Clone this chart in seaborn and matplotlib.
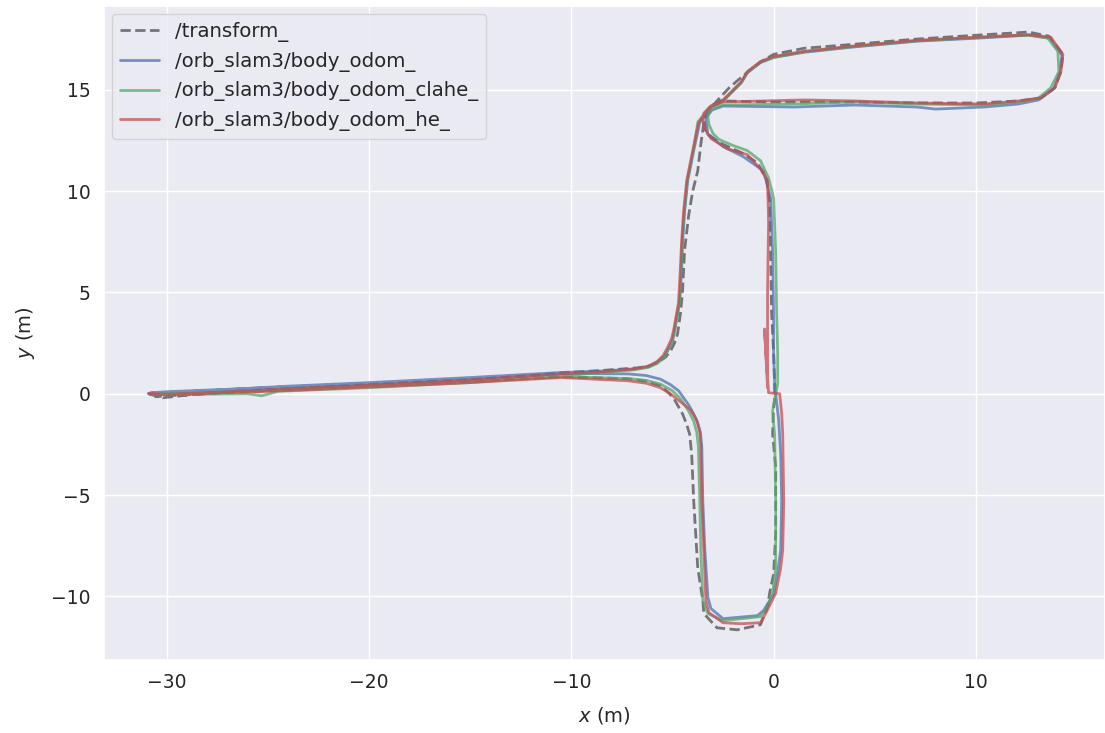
import matplotlib
matplotlib.use("Agg")
import matplotlib.pyplot as plt
import seaborn as sns
import pandas as pd

# ---------------- data (metres) ----------------
transform_xy = [
    (-30.9, 0.0), (-30.2, -0.2), (-29.0, -0.07), (-27.0, 0.1), (-24.0, 0.25), (-20.0, 0.45),
    (-15.0, 0.7), (-12.0, 0.9), (-10.5, 1.03), (-8.5, 1.15), (-6.7, 1.28), (-6.1, 1.38),
    (-5.75, 1.53), (-5.35, 1.8), (-5.1, 2.1), (-4.9, 2.5), (-4.75, 2.95), (-4.6, 4.0),
    (-4.5, 5.1), (-4.4, 7.1), (-4.2, 8.8), (-4.0, 10.0), (-3.75, 11.0), (-3.6, 12.3),
    (-3.45, 13.4), (-3.2, 14.0), (-2.8, 14.45), (-2.2, 15.1), (-1.5, 15.7), (-0.6, 16.4),
    (0.0, 16.75), (1.5, 17.05), (4.0, 17.25), (7.0, 17.5), (10.1, 17.7), (12.6, 17.85),
    (13.6, 17.65), (14.3, 16.75), (14.2, 15.9), (13.9, 15.1), (13.2, 14.6), (12.1, 14.45),
    (10.0, 14.35), (7.1, 14.35), (4.0, 14.4), (0.0, 14.4), (-2.6, 14.45), (-3.1, 14.2),
    (-3.45, 13.6), (-3.35, 12.9), (-2.7, 12.4), (-1.6, 11.9), (-0.8, 11.4), (-0.35, 10.6),
    (-0.2, 9.5), (-0.15, 7.0), (-0.1, 4.0), (0.0, 2.0), (0.05, 0.5), (0.05, -0.3),
    (0.0, -0.7), (-0.05, -2.0), (0.1, -3.6), (0.1, -6.9), (0.0, -8.9), (-0.2, -9.85),
    (-0.3, -10.5), (-0.65, -11.4), (-1.8, -11.65), (-2.8, -11.55), (-3.45, -10.85),
    (-3.5, -10.2), (-3.75, -8.6), (-3.95, -5.3), (-4.05, -3.0), (-4.15, -2.0),
    (-4.3, -1.5), (-4.5, -1.0), (-4.95, -0.2), (-5.3, 0.15), (-5.6, 0.4), (-6.3, 0.62),
    (-7.2, 0.74), (-10.5, 0.84), (-15.0, 0.6), (-20.0, 0.4), (-25.0, 0.15), (-30.0, -0.1),
    (-30.6, -0.15),
]

body_odom_xy = [
    (-30.9, 0.02), (-28.0, 0.15), (-24.1, 0.37), (-20.0, 0.55), (-15.0, 0.8), (-10.5, 1.05),
    (-8.5, 1.12), (-6.9, 1.22), (-6.2, 1.33), (-5.75, 1.55), (-5.4, 1.85), (-5.2, 2.2),
    (-5.0, 2.6), (-4.9, 3.1), (-4.65, 4.5), (-4.55, 6.0), (-4.5, 7.5), (-4.4, 9.0),
    (-4.25, 10.5), (-3.95, 12.0), (-3.65, 13.4), (-3.1, 14.15), (-2.5, 14.45), (-1.6, 15.35),
    (-1.3, 15.85), (-0.65, 16.35), (0.0, 16.6), (1.5, 16.85), (3.8, 17.1), (7.1, 17.4),
    (10.1, 17.55), (12.6, 17.7), (13.65, 17.55), (14.25, 16.7), (14.15, 15.9), (13.85, 15.05),
    (13.1, 14.5), (12.1, 14.3), (10.4, 14.15), (8.0, 14.05), (7.1, 14.15), (4.0, 14.25),
    (1.0, 14.15), (-2.5, 14.2), (-3.05, 14.0), (-3.35, 13.6), (-3.25, 12.8), (-2.5, 12.2),
    (-1.5, 11.7), (-0.5, 11.0), (-0.15, 9.65), (-0.05, 7.0), (0.0, 4.0), (0.0, 2.0),
    (0.05, 0.5), (0.1, 0.0), (0.25, -1.3), (0.35, -3.0), (0.4, -5.3), (0.35, -7.7),
    (0.2, -8.8), (0.0, -9.9), (-0.5, -10.7), (-0.8, -10.95), (-2.5, -11.1), (-3.1, -10.6),
    (-3.25, -10.05), (-3.4, -7.7), (-3.5, -5.3), (-3.55, -2.6), (-3.62, -1.9),
    (-3.75, -1.45), (-3.95, -1.0), (-4.2, -0.55), (-4.7, 0.15), (-5.1, 0.45), (-5.6, 0.72),
    (-6.3, 0.9), (-7.2, 0.98), (-10.5, 1.0), (-15.0, 0.75), (-20.0, 0.5), (-25.0, 0.3),
    (-30.0, 0.1), (-30.8, 0.05),
]

body_odom_clahe_xy = [
    (-30.8, -0.05), (-28.0, -0.02), (-26.0, 0.0), (-25.3, -0.1), (-24.5, 0.12), (-20.0, 0.3),
    (-15.0, 0.55), (-10.5, 0.9), (-8.5, 1.05), (-6.9, 1.18), (-6.2, 1.3), (-5.75, 1.5),
    (-5.4, 1.82), (-5.2, 2.2), (-5.0, 2.6), (-4.9, 3.1), (-4.65, 4.5), (-4.58, 6.0),
    (-4.52, 7.5), (-4.42, 9.0), (-4.27, 10.5), (-3.97, 12.0), (-3.75, 13.4), (-3.2, 14.1),
    (-2.5, 14.45), (-1.6, 15.35), (-1.3, 15.85), (-0.65, 16.35), (0.0, 16.6), (1.5, 16.88),
    (3.8, 17.12), (7.1, 17.42), (10.1, 17.58), (12.6, 17.7), (13.55, 17.55), (14.05, 16.9),
    (14.1, 15.9), (13.7, 15.1), (13.1, 14.6), (12.1, 14.4), (10.4, 14.25), (7.1, 14.3),
    (4.0, 14.4), (1.0, 14.3), (-2.5, 14.25), (-3.1, 14.1), (-3.25, 13.7), (-3.2, 13.3),
    (-3.0, 12.85), (-2.7, 12.55), (-2.0, 12.25), (-1.3, 12.0), (-0.65, 11.5), (-0.25, 10.65),
    (0.0, 9.65), (0.1, 7.0), (0.15, 4.0), (0.2, 2.0), (0.2, 0.5), (0.0, -0.55),
    (-0.05, -0.9), (0.05, -2.0), (0.1, -5.3), (0.1, -8.6), (-0.05, -9.85), (-0.3, -10.5),
    (-0.65, -11.0), (-2.5, -11.2), (-3.25, -10.85), (-3.5, -10.2), (-3.6, -7.7),
    (-3.65, -5.3), (-3.72, -2.6), (-3.8, -1.9), (-3.95, -1.35), (-4.2, -0.85),
    (-4.6, -0.25), (-5.0, 0.15), (-5.6, 0.48), (-6.3, 0.66), (-7.2, 0.75), (-10.5, 0.85),
    (-15.0, 0.6), (-20.0, 0.38), (-25.0, 0.15), (-30.0, 0.0), (-30.7, -0.05),
]

body_odom_he_xy = [
    (-30.9, 0.0), (-30.0, -0.05), (-27.4, 0.07), (-24.0, 0.25), (-20.0, 0.42), (-15.0, 0.68),
    (-10.5, 0.98), (-8.5, 1.08), (-6.9, 1.23), (-6.2, 1.36), (-5.75, 1.6), (-5.45, 1.9),
    (-5.25, 2.27), (-5.05, 2.7), (-4.95, 3.1), (-4.7, 4.5), (-4.62, 6.0), (-4.55, 7.5),
    (-4.45, 9.0), (-4.3, 10.5), (-4.0, 12.0), (-3.7, 13.4), (-3.1, 14.2), (-2.5, 14.5),
    (-1.6, 15.4), (-1.3, 15.9), (-0.65, 16.4), (0.0, 16.65), (1.5, 16.9), (3.8, 17.15),
    (7.1, 17.45), (10.1, 17.6), (12.6, 17.72), (13.7, 17.6), (14.3, 16.75), (14.2, 15.9),
    (13.9, 15.1), (13.2, 14.6), (12.1, 14.45), (10.4, 14.3), (7.1, 14.35), (4.0, 14.45),
    (1.5, 14.5), (-2.5, 14.4), (-3.1, 14.2), (-3.45, 13.85), (-3.5, 13.4), (-3.3, 12.9),
    (-3.1, 12.6), (-2.3, 12.1), (-1.3, 11.8), (-0.65, 11.1), (-0.3, 10.5), (-0.25, 8.5),
    (-0.3, 5.0), (-0.3, 2.0), (-0.3, 0.3), (-0.45, 3.2), (-0.35, 1.5), (-0.25, 0.05),
    (0.3, 0.0), (0.4, -1.0), (0.45, -2.0), (0.5, -5.3), (0.45, -7.7), (0.35, -8.6),
    (0.1, -9.85), (-0.4, -10.85), (-0.65, -11.3), (-1.6, -11.35), (-2.5, -11.3),
    (-3.2, -10.8), (-3.35, -10.2), (-3.45, -7.7), (-3.55, -5.3), (-3.6, -2.6),
    (-3.65, -1.9), (-3.8, -1.3), (-4.1, -0.8), (-4.6, -0.4), (-5.1, 0.0), (-5.6, 0.3),
    (-6.3, 0.52), (-7.2, 0.64), (-10.5, 0.8), (-15.0, 0.55), (-20.0, 0.33), (-25.0, 0.12),
    (-30.0, -0.02), (-30.8, 0.0),
]

series_names = ["/transform_", "/orb_slam3/body_odom_", "/orb_slam3/body_odom_clahe_",
                "/orb_slam3/body_odom_he_"]
series_data = [transform_xy, body_odom_xy, body_odom_clahe_xy, body_odom_he_xy]

x_ticks = [-30, -20, -10, 0, 10]
y_ticks = [-10, -5, 0, 5, 10, 15]

# ---------------- style ----------------
sns.set_theme(style="darkgrid", palette="deep")
plt.rcParams["font.family"] = ["DejaVu Sans"]
plt.rcParams["font.size"] = 14
deep = sns.color_palette("deep")
styles = [
    dict(color="black", alpha=0.5, linestyle="--"),
    dict(color=deep[0], alpha=0.75, linestyle="-"),
    dict(color=deep[2], alpha=0.75, linestyle="-"),
    dict(color=deep[3], alpha=0.75, linestyle="-"),
]

fig = plt.figure(figsize=(11.05, 7.33), dpi=100)
ax = fig.add_axes([104 / 1105, 73 / 733, 1.0 - 104 / 1105, 657 / 733 - 0.004])

for name, pts, st in zip(series_names, series_data, styles):
    df = pd.DataFrame(pts, columns=["x", "y"])
    sns.lineplot(data=df, x="x", y="y", sort=False, estimator=None, ax=ax,
                 label=name, linewidth=2.0, **st)

ax.set_xlim(-33.1, 16.38)
ax.set_ylim(-13.14, 19.14)
ax.set_xticks(x_ticks)
ax.set_yticks(y_ticks)
ax.tick_params(labelsize=13.5)
ax.set_xlabel("$x$ (m)", fontsize=14, labelpad=9)
ax.set_ylabel("$y$ (m)", fontsize=14, labelpad=10)
ax.legend(loc="upper left", fontsize=14.2, frameon=True, borderaxespad=0.4)

fig.savefig("out.png", dpi=100)
